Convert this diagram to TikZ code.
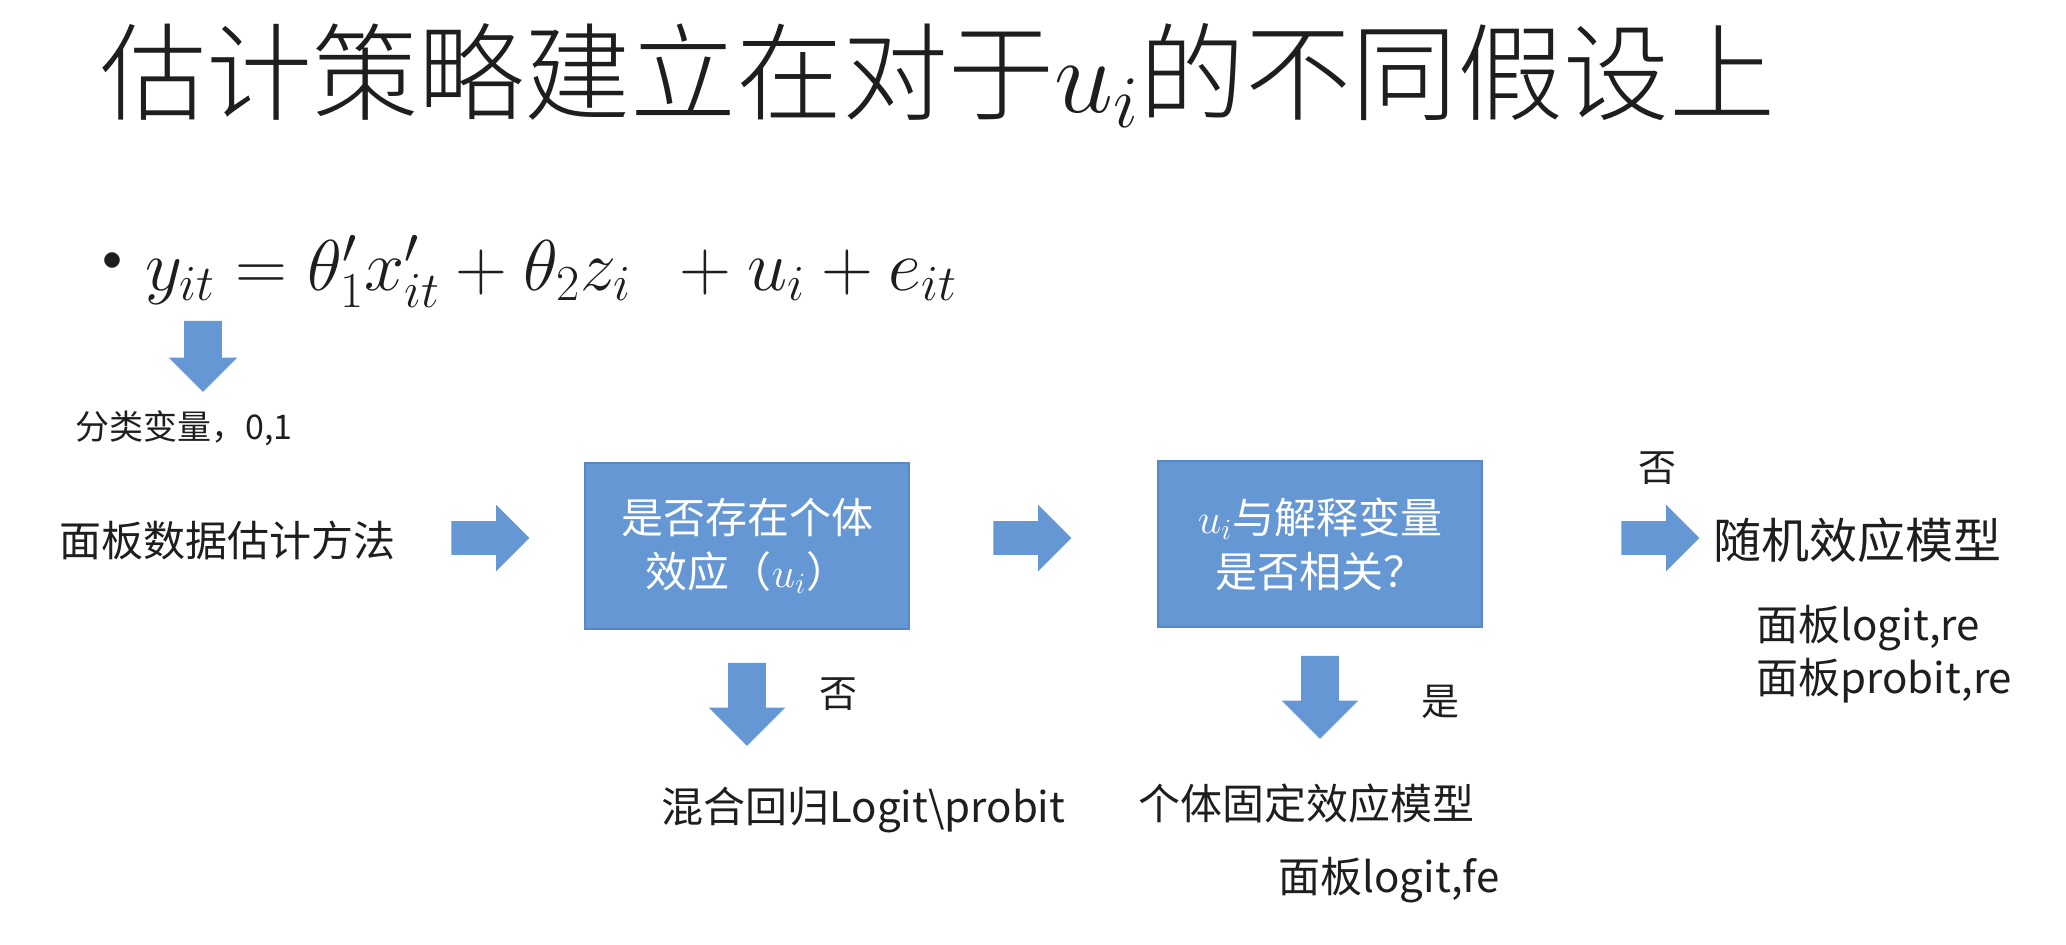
\RequirePackage{fix-cm}
\documentclass[tikz,border=0pt]{standalone}
\usepackage{amsmath}
\usepackage[no-math]{fontspec}
\setmainfont{Noto Sans CJK SC}
\IfFontExistsTF{Noto Sans CJK SC Light}
  {\newfontfamily\headfont{Noto Sans CJK SC Light}}
  {\newfontfamily\headfont{Noto Sans CJK SC}}
\usetikzlibrary{shapes.arrows}

\definecolor{boxblue}{RGB}{101,151,212}
\definecolor{boxedge}{RGB}{88,136,196}
\definecolor{ink}{RGB}{30,30,30}

\begin{document}
\begin{tikzpicture}[
  x=0.5pt, y=-0.5pt,
  every node/.style={inner sep=0pt, text=ink},
  title/.style={font=\headfont\fontsize{53}{64}\selectfont},
  formula/.style={font=\fontsize{36}{44}\selectfont},
  lbl/.style={font=\fontsize{21}{27}\selectfont},
  lblbig/.style={font=\fontsize{24}{30}\selectfont},
  lblsmall/.style={font=\fontsize{17}{22}\selectfont},
  yesno/.style={font=\fontsize{19}{24}\selectfont},
  decision/.style={rectangle, fill=boxblue, draw=boxedge, line width=0.8pt,
    minimum width=162pt, minimum height=83pt, text=white, align=center,
    font=\fontsize{21}{27}\selectfont},
  rarrow/.style={single arrow, fill=boxblue, draw=none, inner sep=8.25pt,
    single arrow head extend=8.25pt, minimum height=39pt},
  darrow/.style={single arrow, rotate=-90, fill=boxblue, draw=none, inner sep=9.25pt,
    single arrow head extend=9.75pt, minimum height=41.5pt},
  darrowsmall/.style={single arrow, rotate=-90, fill=boxblue, draw=none, inner sep=9.25pt,
    single arrow head extend=7.75pt, minimum height=35.5pt}
]
\useasboundingbox (0,0) rectangle (2066,944);

% heading
\node[title, anchor=base west] (heading) at (100,112)
  {估计策略建立在对于$u_i$的不同假设上};

% model equation with bullet
\node[font=\fontsize{20}{24}\selectfont] (bullet) at (112,262) {$\bullet$};
\node[formula, anchor=base west] (eqn) at (145,290)
  {$y_{it} = \theta_1' x_{it}' + \theta_2 z_i \;\, + u_i + e_{it}$};
\node[darrowsmall] (adep) at (203,347) {};
\node[lblsmall, anchor=west] (depvar) at (75,428) {分类变量，0,1};

% main flow
\node[lbl, anchor=west] (method) at (59,540) {面板数据估计方法};
\node[rarrow] (a1) at (482,538) {};
\node[decision] (q1) at (747,546) {是否存在个体\\效应（$u_i$）};
\node[rarrow] (a2) at (1024,538) {};
\node[decision] (q2) at (1320,544) {$u_i$与解释变量\\是否相关？};
\node[rarrow] (a3) at (1652,538) {};
\node[yesno] (no2) at (1657,468) {否};
\node[lblbig, anchor=west] (re) at (1713,540) {随机效应模型};
\node[lbl, anchor=west] (relogit) at (1756,628) {面板logit,re};
\node[lbl, anchor=west] (reprobit) at (1756,681) {面板probit,re};

% branch below first question
\node[darrow] (d1) at (747,695) {};
\node[yesno] (no1) at (838,694) {否};
\node[lbl, anchor=west] (pooled) at (661,810) {混合回归Logit\textbackslash probit};

% branch below second question
\node[darrow] (d2) at (1320,688) {};
\node[yesno] (yes2) at (1440,702) {是};
\node[lbl, anchor=west] (fe) at (1138,804) {个体固定效应模型};
\node[lbl, anchor=west] (felogit) at (1278,880) {面板logit,fe};
\end{tikzpicture}
\end{document}
